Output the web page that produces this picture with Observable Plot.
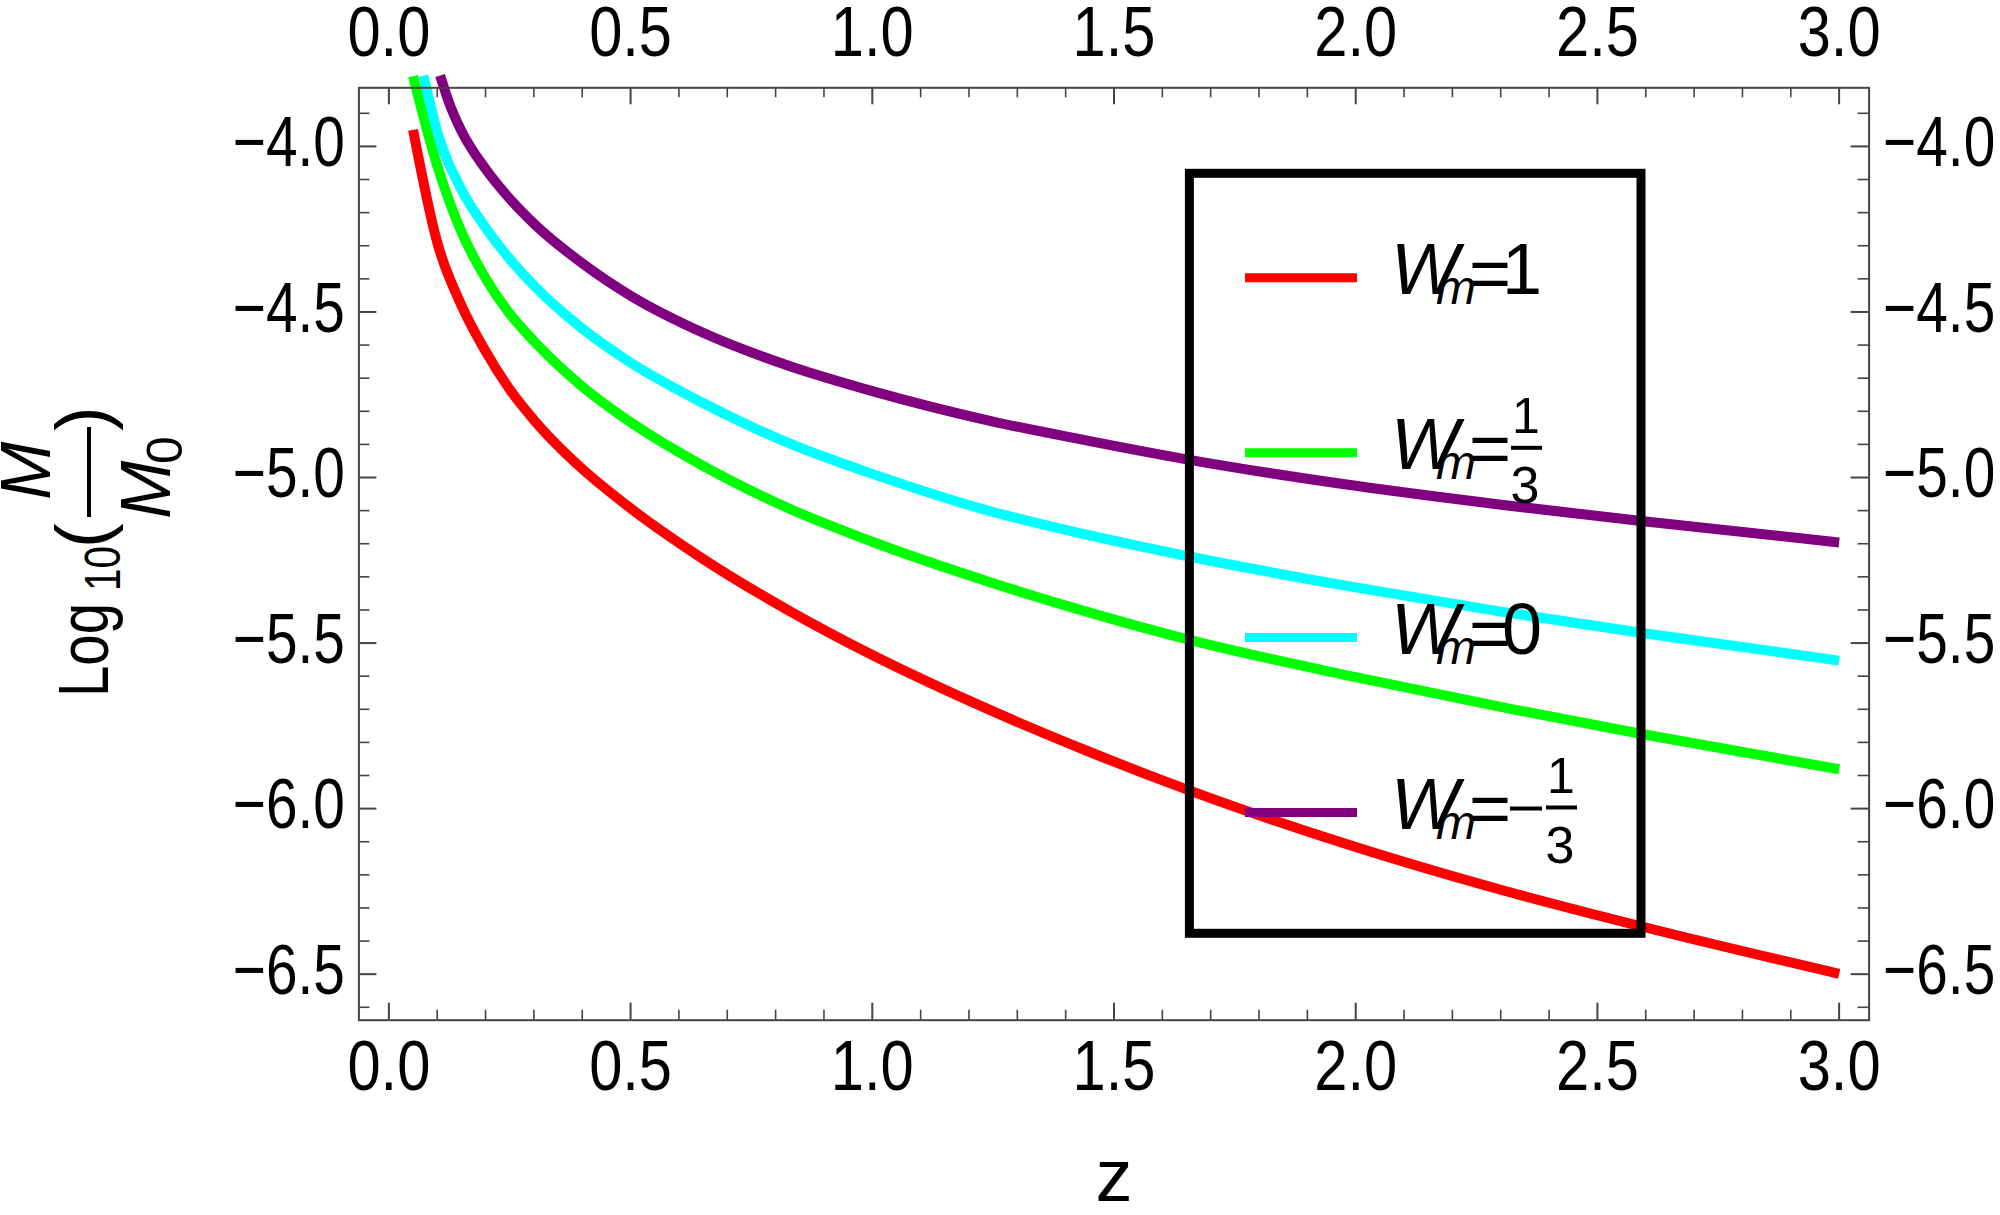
<!DOCTYPE html>
<html>
<head>
<meta charset="utf-8">
<script src="https://cdn.jsdelivr.net/npm/d3@7"></script>
<script src="https://cdn.jsdelivr.net/npm/@observablehq/plot@0.6"></script>
<style>
  html, body { margin: 0; padding: 0; background: #ffffff; }
  #chart svg { display: block; }
</style>
</head>
<body>
<div id="chart"></div>
<script>
// ---------- data ----------
const zW1   = [0.05, 0.1, 0.15, 0.2, 0.25, 0.3, 0.35, 0.4, 0.5, 0.65, 0.83, 1.0, 1.2, 1.45, 1.65, 2.0, 2.3, 2.6, 3.0];
const mW1   = [-3.95, -4.29, -4.48, -4.619, -4.734, -4.826, -4.905, -4.974, -5.093, -5.246, -5.404, -5.536, -5.674, -5.829, -5.942, -6.116, -6.245, -6.359, -6.499];

const zW13  = [0.05, 0.1, 0.15, 0.2, 0.25, 0.3, 0.4, 0.5, 0.65, 0.83, 1.0, 1.25, 1.45, 1.65, 2.0, 2.3, 2.6, 3.0];
const mW13  = [-3.788, -4.058, -4.258, -4.398, -4.505, -4.588, -4.725, -4.833, -4.965, -5.095, -5.194, -5.319, -5.408, -5.488, -5.603, -5.693, -5.777, -5.881];

const zW0   = [0.0716, 0.1, 0.15, 0.2, 0.25, 0.3, 0.4, 0.5, 0.65, 0.83, 1.0, 1.25, 1.45, 1.65, 2.0, 2.3, 2.6, 3.0];
const mW0   = [-3.786, -3.955, -4.13, -4.245, -4.34, -4.42, -4.55, -4.653, -4.775, -4.898, -4.989, -5.104, -5.175, -5.237, -5.332, -5.405, -5.471, -5.553];

const zWm13 = [0.106, 0.125, 0.15, 0.2, 0.25, 0.3, 0.4, 0.5, 0.65, 0.83, 1.0, 1.25, 1.45, 1.65, 2.0, 2.3, 2.6, 3.0];
const mWm13 = [-3.786, -3.87, -3.953, -4.068, -4.158, -4.233, -4.353, -4.451, -4.563, -4.664, -4.739, -4.831, -4.89, -4.945, -5.025, -5.082, -5.133, -5.196];

const seriesKeys   = ["1", "1/3", "0", "-1/3"];
const seriesColors = ["#ff0000", "#00ff00", "#00ffff", "#800080"];
const xMajorTicks  = [0, 0.5, 1.0, 1.5, 2.0, 2.5, 3.0];
const yMajorTicks  = [-6.5, -6.0, -5.5, -5.0, -4.5, -4.0];

// ---------- table ----------
const seriesZ = [zW1, zW13, zW0, zWm13];
const seriesM = [mW1, mW13, mW0, mWm13];
const rows = [];
seriesKeys.forEach((k, i) => seriesZ[i].forEach((z, j) => rows.push({series: k, z, m: seriesM[i][j]})));

const xMinorTicks = d3.range(0, 31).map(i => i / 10).filter(v => !xMajorTicks.some(t => Math.abs(t - v) < 1e-9));
const yMinorTicks = d3.range(-66, -38).map(i => i / 10).filter(v => !yMajorTicks.some(t => Math.abs(t - v) < 1e-9));

// ---------- layout ----------
const W = 2000, H = 1215;
const mL = 358.4, mR = W - 1868.6, mT = 87.3, mB = H - 1019.7;
const plotW = W - mL - mR, plotH = H - mT - mB;
const FONT = '"Liberation Sans", Arial, sans-serif';
const TICK = "#444444";
const fmt = d3.format(".1f");
const labelSize = 71;

const chart = Plot.plot({
  width: W, height: H,
  marginLeft: mL, marginRight: mR, marginTop: mT, marginBottom: mB,
  style: {fontFamily: FONT, background: "#ffffff", color: "#000000", overflow: "visible"},
  x: {domain: [-0.062, 3.062]},
  y: {domain: [-6.639, -3.823]},
  color: {domain: seriesKeys, range: seriesColors},
  marks: [
    Plot.line(rows, {x: "z", y: "m", z: "series", stroke: "series", strokeWidth: 10, curve: "monotone-x", strokeLinecap: "butt", strokeLinejoin: "round"}),
    Plot.frame({stroke: TICK, strokeWidth: 2}),
    // major & minor ticks, inward on all four sides
    Plot.tickX(xMajorTicks, {x: d => d, insetBottom: plotH - 17, stroke: TICK, strokeWidth: 2}),
    Plot.tickX(xMajorTicks, {x: d => d, insetTop: plotH - 17, stroke: TICK, strokeWidth: 2}),
    Plot.tickX(xMinorTicks, {x: d => d, insetBottom: plotH - 10, stroke: TICK, strokeWidth: 1.6}),
    Plot.tickX(xMinorTicks, {x: d => d, insetTop: plotH - 10, stroke: TICK, strokeWidth: 1.6}),
    Plot.tickY(yMajorTicks, {y: d => d, insetRight: plotW - 18, stroke: TICK, strokeWidth: 2}),
    Plot.tickY(yMajorTicks, {y: d => d, insetLeft: plotW - 18, stroke: TICK, strokeWidth: 2}),
    Plot.tickY(yMinorTicks, {y: d => d, insetRight: plotW - 11, stroke: TICK, strokeWidth: 1.6}),
    Plot.tickY(yMinorTicks, {y: d => d, insetLeft: plotW - 11, stroke: TICK, strokeWidth: 1.6}),
    // tick labels
    Plot.axisX(xMajorTicks, {anchor: "bottom", tickSize: 0, tickPadding: 19, fontSize: labelSize, tickFormat: fmt, label: null}),
    Plot.axisX(xMajorTicks, {anchor: "top", tickSize: 0, tickPadding: 32, fontSize: labelSize, tickFormat: fmt, label: null}),
    Plot.axisY(yMajorTicks, {anchor: "left", tickSize: 0, tickPadding: 14, dy: -3, fontSize: labelSize, tickFormat: fmt, label: null}),
    Plot.axisY(yMajorTicks, {anchor: "right", tickSize: 0, tickPadding: 14, dy: -3, fontSize: labelSize, tickFormat: fmt, label: null}),
    // x axis title
    Plot.text(["z"], {frameAnchor: "bottom", dy: 180.3, lineAnchor: "bottom", text: d => d, fontSize: 74, fill: "#000"})
  ]
});
document.getElementById("chart").appendChild(chart);

const svg = d3.select(chart);

// condensed look of the reference's tick labels
svg.selectAll("g[aria-label='x-axis tick label'] text, g[aria-label='y-axis tick label'] text").each(function () {
  const t = this.textContent;
  const n = this.getComputedTextLength();
  this.setAttribute("textLength", n * (t.startsWith("\u2212") ? 0.80 : 0.84));
  this.setAttribute("lengthAdjust", "spacingAndGlyphs");
});

// ---------- rotated y label: Log10(M / M0) ----------
const yl = svg.append("g").attr("transform", "translate(108,697) rotate(-90)")
  .attr("fill", "#000").attr("text-anchor", "start").style("font-family", FONT);
yl.append("text").attr("x", 0).attr("y", 0).attr("font-size", 70).attr("textLength", 94).attr("lengthAdjust", "spacingAndGlyphs").text("Log");
yl.append("text").attr("x", 106).attr("y", 12).attr("font-size", 50).attr("textLength", 45).attr("lengthAdjust", "spacingAndGlyphs").text("10");
yl.append("text").attr("x", 149).attr("y", 0).attr("font-size", 74).text("(");
yl.append("text").attr("x", 197).attr("y", -58).attr("font-size", 70).attr("font-style", "italic").text("M");
yl.append("line").attr("x1", 180).attr("x2", 270).attr("y1", -19).attr("y2", -19).attr("stroke", "#000").attr("stroke-width", 4);
yl.append("text").attr("x", 178).attr("y", 62).attr("font-size", 70).attr("font-style", "italic").text("M");
yl.append("text").attr("x", 233).attr("y", 74).attr("font-size", 50).text("0");
yl.append("text").attr("x", 266).attr("y", 0).attr("font-size", 74).text(")");

// ---------- legend ----------
const legendRowY = [277.7, 452.8, 637.5, 812.5];
const leg = svg.append("g").style("font-family", FONT).attr("fill", "#000").attr("text-anchor", "start");
leg.append("rect").attr("x", 1189.4).attr("y", 173.3).attr("width", 1641 - 1189.4).attr("height", 933.3 - 173.3)
  .attr("fill", "none").attr("stroke", "#000").attr("stroke-width", 9);
seriesKeys.forEach((k, i) => {
  const y = legendRowY[i];
  const base = y + 16;
  leg.append("line").attr("x1", 1245).attr("x2", 1357).attr("y1", y).attr("y2", y)
    .attr("stroke", seriesColors[i]).attr("stroke-width", 9);
  leg.append("text").attr("x", 1391).attr("y", base).attr("font-size", 72).attr("font-style", "italic").text("W");
  leg.append("text").attr("x", 1436).attr("y", base + 10).attr("font-size", 48).attr("font-style", "italic").text("m");
  leg.append("text").attr("x", 1469).attr("y", base + 4).attr("font-size", 72).text("=");
  const neg = k.startsWith("-");
  const body = neg ? k.slice(1) : k;
  let x0 = 1510;
  if (neg) {
    leg.append("line").attr("x1", 1510).attr("x2", 1542).attr("y1", base - 20).attr("y2", base - 20).attr("stroke", "#000").attr("stroke-width", 4);
    x0 = 1545;
  }
  if (body.includes("/")) {
    const [num, den] = body.split("/");
    leg.append("line").attr("x1", x0 + 1).attr("x2", x0 + 32).attr("y1", base - 21).attr("y2", base - 21).attr("stroke", "#000").attr("stroke-width", 4);
    leg.append("text").attr("x", x0 + 16).attr("y", base - 36).attr("font-size", 50).attr("text-anchor", "middle").text(num);
    leg.append("text").attr("x", x0 + 15).attr("y", base + 34).attr("font-size", 52).attr("text-anchor", "middle").text(den);
  } else {
    leg.append("text").attr("x", x0 - 8).attr("y", base).attr("font-size", 72).text(body);
  }
});
</script>
</body>
</html>
